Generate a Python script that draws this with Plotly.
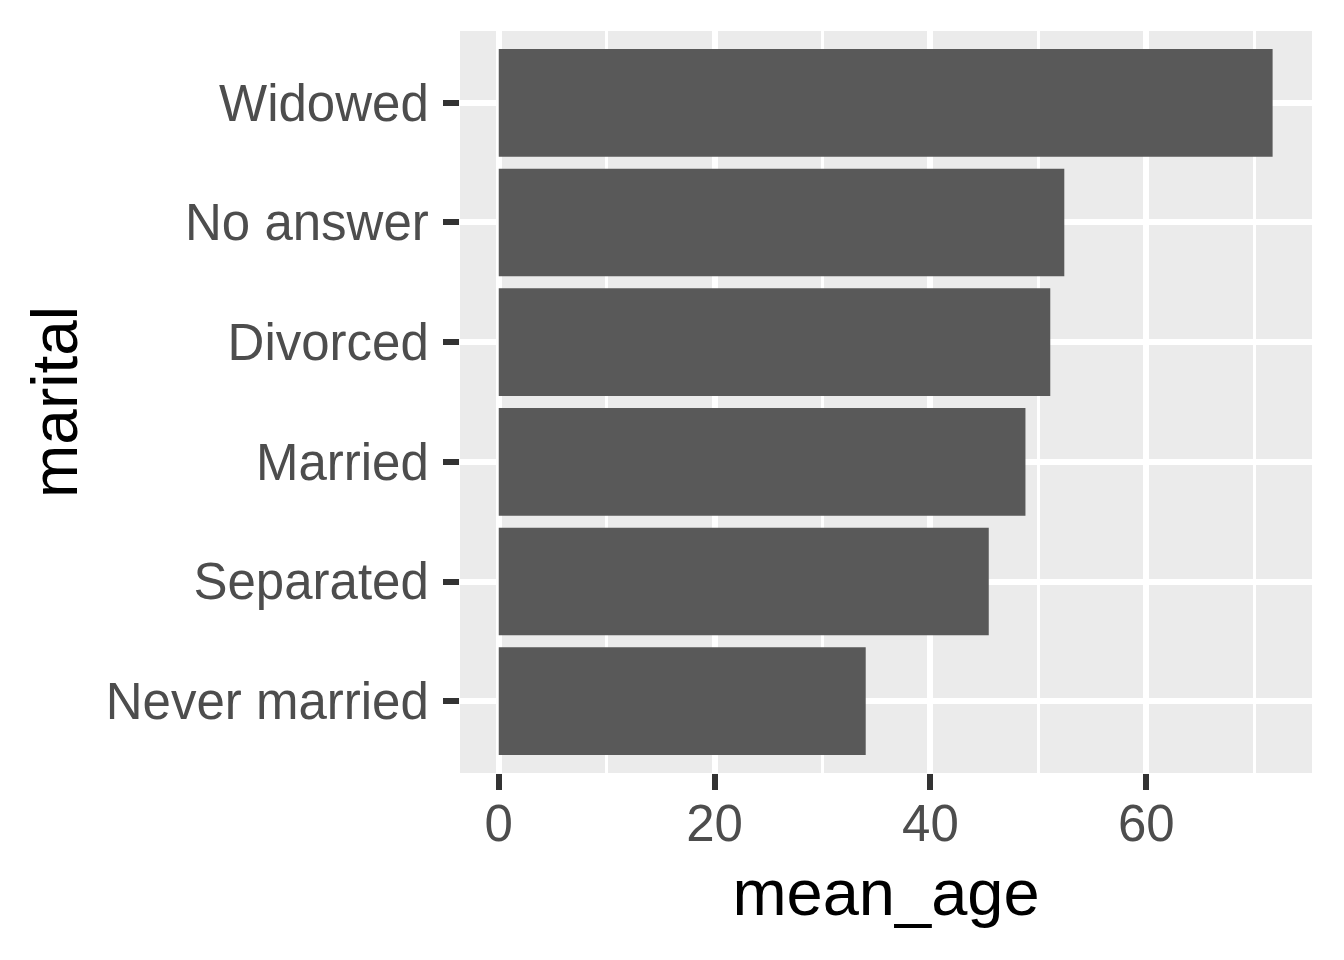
import plotly.graph_objects as go

# mean age by marital status, bottom to top as drawn
marital = ["Never married", "Separated", "Married", "Divorced", "No answer", "Widowed"]
mean_age = [34.0, 45.4, 48.8, 51.1, 52.4, 71.7]

fig = go.Figure()
fig.add_trace(go.Bar(x=mean_age, y=marital, orientation="h",
                     marker=dict(color="#595959", line=dict(width=0)),
                     width=0.9))

# page body adds an 8px offset, so the figure is sized to fit inside it
fig.update_layout(
    width=1336, height=952,
    margin=dict(l=452, r=32, t=23, b=187),
    paper_bgcolor="white", plot_bgcolor="#EBEBEB",
    font=dict(family="Liberation Sans, Arial, sans-serif"),
    showlegend=False,
)

fig.update_xaxes(
    range=[-3.59, 75.35], tickvals=[0, 20, 40, 60],
    showgrid=True, gridcolor="white", gridwidth=6, zeroline=False,
    minor=dict(dtick=10, tick0=0, showgrid=True, gridcolor="white", gridwidth=3, ticklen=0),
    ticks="outside", ticklen=16, tickwidth=6, tickcolor="#333333",
    tickfont=dict(size=51, color="#4D4D4D"), ticklabelstandoff=-10,
    title=dict(text="mean_age", font=dict(size=65, color="black"), standoff=18),
)
fig.update_yaxes(
    range=[-0.6, 5.6], categoryorder="array", categoryarray=marital,
    showgrid=True, gridcolor="white", gridwidth=6, zeroline=False,
    ticks="outside", ticklen=16, tickwidth=6, tickcolor="#333333",
    tickfont=dict(size=51, color="#4D4D4D"), ticklabelstandoff=4,
    title=dict(text="marital", font=dict(size=64, color="black"), standoff=7),
)

fig.write_html("out.html")
